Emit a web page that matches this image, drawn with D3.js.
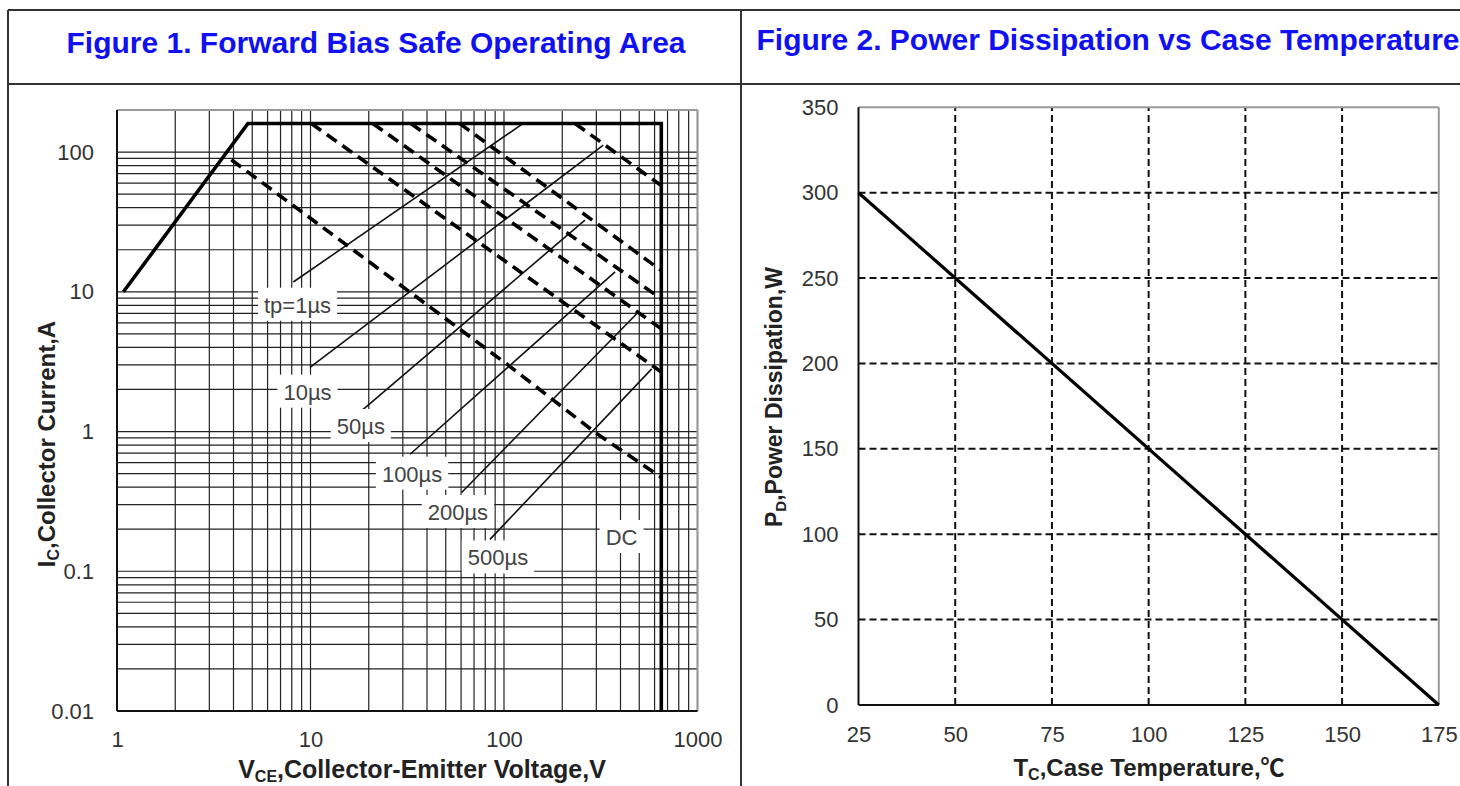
<!DOCTYPE html>
<html>
<head>
<meta charset="utf-8">
<title>Forward Bias SOA / Power Dissipation</title>
<script src="https://d3js.org/d3.v7.min.js"></script>
<style>
  body { margin: 0; background: #fff; }
  svg text { font-family: "Liberation Sans", Arial, sans-serif; }
</style>
</head>
<body>
<svg id="chart" width="1460" height="786"></svg>
<script>
// ---- Figure 1: forward bias SOA (log-log) ----
const vceDecades = [1, 10, 100, 1000];
const icDecades = [0.01, 0.1, 1, 10, 100];
// outer limit (tp = 1us): rising line, 160 A flat, 650 V wall
const limitV = [1.08, 4.75, 650, 650];
const limitI = [10, 160, 160, 0.01];
// pulse lines 10, 50, 100, 200, 500 us: start on the 160 A line, end on the 650 V wall
const pulseStartV = [233, 59, 33, 21, 10.1];
const pulseEndI = [57.5, 14.2, 8.9, 5.43, 2.67];
const dcV = [3.9, 15.8, 106, 297, 650];
const dcI = [88, 21, 2.96, 0.98, 0.47];
const labelText = ["tp=1µs", "10µs", "50µs", "100µs", "200µs", "500µs", "DC"];
const labelV = [8.57, 9.65, 18.2, 33.5, 57.8, 93.1, 405];
const labelI = [8.04, 1.92, 1.09, 0.497, 0.264, 0.125, 0.175];
// leader lines from labels to their curves
const leaderV0 = [8.15, 9.94, 18.4, 32.7, 60.4, 84.6];
const leaderI0 = [11.75, 2.88, 1.41, 0.688, 0.366, 0.169];
const leaderV1 = [123, 326, 262, 375, 485, 580];
const leaderI1 = [157, 112, 32.6, 13.9, 6.96, 2.81];

// ---- Figure 2: power dissipation vs case temperature ----
const caseTemp = [25, 175];
const powerDiss = [300, 0];
const tempTicks = [25, 50, 75, 100, 125, 150, 175];
const powerTicks = [0, 50, 100, 150, 200, 250, 300, 350];

const svg = d3.select("#chart");

// table frame
const frame = svg.append("g").attr("stroke", "#333").attr("stroke-width", 2);
frame.append("line").attr("x1", 8).attr("x2", 1460).attr("y1", 10).attr("y2", 10);
frame.append("line").attr("x1", 8).attr("x2", 1460).attr("y1", 84).attr("y2", 84);
frame.append("line").attr("x1", 8).attr("x2", 8).attr("y1", 10).attr("y2", 786);
frame.append("line").attr("x1", 741).attr("x2", 741).attr("y1", 10).attr("y2", 786);

svg.append("text").attr("x", 376).attr("y", 53).attr("text-anchor", "middle")
  .attr("font-size", 30).attr("font-weight", "bold").attr("fill", "#1010f0")
  .text("Figure 1. Forward Bias Safe Operating Area");
svg.append("text").attr("x", 1108).attr("y", 50).attr("text-anchor", "middle")
  .attr("font-size", 30).attr("font-weight", "bold").attr("fill", "#1010f0")
  .text("Figure 2. Power Dissipation vs Case Temperature");

// ================= Figure 1 =================
const x1 = d3.scaleLog().domain([1, 1000]).range([117, 697.5]);
const y1 = d3.scaleLog().domain([0.01, 200]).range([711, 110]);
const g1 = svg.append("g");

g1.append("g").selectAll("line").data(x1.ticks()).join("line")
  .attr("x1", d => x1(d)).attr("x2", d => x1(d))
  .attr("y1", y1(0.01)).attr("y2", y1(200))
  .attr("stroke", "#222").attr("stroke-width", 1.2);
g1.append("g").selectAll("line").data(y1.ticks()).join("line")
  .attr("x1", x1(1)).attr("x2", x1(1000))
  .attr("y1", d => y1(d)).attr("y2", d => y1(d))
  .attr("stroke", "#222").attr("stroke-width", 1.2);

// plot border
g1.append("line").attr("x1", x1(1)).attr("x2", x1(1000)).attr("y1", y1(200)).attr("y2", y1(200))
  .attr("stroke", "#999").attr("stroke-width", 2);
g1.append("line").attr("x1", x1(1000)).attr("x2", x1(1000)).attr("y1", y1(200)).attr("y2", y1(0.01))
  .attr("stroke", "#999").attr("stroke-width", 2);
g1.append("line").attr("x1", x1(1)).attr("x2", x1(1)).attr("y1", y1(200)).attr("y2", y1(0.01))
  .attr("stroke", "#111").attr("stroke-width", 2);
g1.append("line").attr("x1", x1(1)).attr("x2", x1(1000)).attr("y1", y1(0.01)).attr("y2", y1(0.01))
  .attr("stroke", "#111").attr("stroke-width", 2);

// leader lines
g1.append("g").selectAll("line").data(leaderV0).join("line")
  .attr("x1", (d, i) => x1(leaderV0[i])).attr("y1", (d, i) => y1(leaderI0[i]))
  .attr("x2", (d, i) => x1(leaderV1[i])).attr("y2", (d, i) => y1(leaderI1[i]))
  .attr("stroke", "#111").attr("stroke-width", 1.6);

// pulse lines (dashed)
g1.append("g").selectAll("line").data(pulseStartV).join("line")
  .attr("x1", d => x1(d)).attr("y1", y1(limitI[1]))
  .attr("x2", x1(limitV[2])).attr("y2", (d, i) => y1(pulseEndI[i]))
  .attr("stroke", "#000").attr("stroke-width", 3.6).attr("stroke-dasharray", "12,7");

const line1 = d3.line().x(d => x1(d[0])).y(d => y1(d[1]));
g1.append("path").datum(dcV.map((v, i) => [v, dcI[i]])).attr("d", line1)
  .attr("fill", "none").attr("stroke", "#000").attr("stroke-width", 3.6)
  .attr("stroke-dasharray", "12,7");

g1.append("path").datum(limitV.map((v, i) => [v, limitI[i]])).attr("d", line1)
  .attr("fill", "none").attr("stroke", "#000").attr("stroke-width", 3.6)
  .attr("stroke-linejoin", "miter");

// curve labels with white boxes
const labels = g1.append("g").selectAll("g").data(labelText).join("g");
labels.append("text")
  .attr("x", (d, i) => x1(labelV[i])).attr("y", (d, i) => y1(labelI[i]))
  .attr("dy", "0.35em").attr("text-anchor", "middle")
  .attr("font-size", 22).attr("fill", "#444").text(d => d);
labels.each(function() {
  const t = d3.select(this).select("text");
  const b = t.node().getBBox();
  d3.select(this).insert("rect", "text")
    .attr("x", b.x - 6).attr("y", b.y - 5).attr("width", b.width + 12).attr("height", b.height + 8)
    .attr("fill", "#fff");
});

// axes
const ax1 = g1.append("g").attr("transform", `translate(0,${y1(0.01)})`)
  .call(d3.axisBottom(x1).tickValues(vceDecades).tickFormat(d3.format("~g")).tickSize(0).tickPadding(20));
const ay1 = g1.append("g").attr("transform", `translate(${x1(1)},0)`)
  .call(d3.axisLeft(y1).tickValues(icDecades).tickFormat(d => String(d)).tickSize(0).tickPadding(23));
[ax1, ay1].forEach(a => {
  a.select(".domain").remove();
  a.selectAll("text").attr("font-size", 22).attr("fill", "#333")
    .attr("font-family", "Liberation Sans, Arial, sans-serif");
});

const xt1 = svg.append("text").attr("x", 422).attr("y", 778).attr("text-anchor", "middle")
  .attr("font-size", 25).attr("font-weight", "bold").attr("fill", "#222");
xt1.append("tspan").text("V");
xt1.append("tspan").attr("font-size", 16).attr("dy", 4).text("CE");
xt1.append("tspan").attr("dy", -4).text(",Collector-Emitter Voltage,V");

const yt1 = svg.append("text").attr("transform", "translate(55,444) rotate(-90)")
  .attr("text-anchor", "middle").attr("font-size", 24).attr("font-weight", "bold").attr("fill", "#222");
yt1.append("tspan").text("I");
yt1.append("tspan").attr("font-size", 16).attr("dy", 4).text("C");
yt1.append("tspan").attr("dy", -4).text(",Collector Current,A");

// ================= Figure 2 =================
const x2 = d3.scaleLinear().domain([25, 175]).range([858.5, 1438.8]);
const y2 = d3.scaleLinear().domain([0, 350]).range([705, 107.3]);
const g2 = svg.append("g");

g2.append("g").selectAll("line").data(tempTicks.slice(1, -1)).join("line")
  .attr("x1", d => x2(d)).attr("x2", d => x2(d)).attr("y1", y2(0)).attr("y2", y2(350))
  .attr("stroke", "#111").attr("stroke-width", 2).attr("stroke-dasharray", "7,4");
g2.append("g").selectAll("line").data(powerTicks.slice(1, -1)).join("line")
  .attr("x1", x2(25)).attr("x2", x2(175)).attr("y1", d => y2(d)).attr("y2", d => y2(d))
  .attr("stroke", "#111").attr("stroke-width", 2).attr("stroke-dasharray", "7,4");

g2.append("line").attr("x1", x2(25)).attr("x2", x2(175)).attr("y1", y2(350)).attr("y2", y2(350))
  .attr("stroke", "#999").attr("stroke-width", 2);
g2.append("line").attr("x1", x2(175)).attr("x2", x2(175)).attr("y1", y2(350)).attr("y2", y2(0))
  .attr("stroke", "#999").attr("stroke-width", 2);
g2.append("line").attr("x1", x2(25)).attr("x2", x2(25)).attr("y1", y2(350)).attr("y2", y2(0))
  .attr("stroke", "#111").attr("stroke-width", 2);
g2.append("line").attr("x1", x2(25)).attr("x2", x2(175)).attr("y1", y2(0)).attr("y2", y2(0))
  .attr("stroke", "#111").attr("stroke-width", 2);

const line2 = d3.line().x(d => x2(d[0])).y(d => y2(d[1]));
g2.append("path").datum(caseTemp.map((t, i) => [t, powerDiss[i]])).attr("d", line2)
  .attr("fill", "none").attr("stroke", "#000").attr("stroke-width", 3.2);

const ax2 = g2.append("g").attr("transform", `translate(0,${y2(0)})`)
  .call(d3.axisBottom(x2).tickValues(tempTicks).tickSize(0).tickPadding(21));
const ay2 = g2.append("g").attr("transform", `translate(${x2(25)},0)`)
  .call(d3.axisLeft(y2).tickValues(powerTicks).tickSize(0).tickPadding(20));
[ax2, ay2].forEach(a => {
  a.select(".domain").remove();
  a.selectAll("text").attr("font-size", 22).attr("fill", "#333")
    .attr("font-family", "Liberation Sans, Arial, sans-serif");
});

const xt2 = svg.append("text").attr("x", 1149).attr("y", 776).attr("text-anchor", "middle")
  .attr("font-size", 24).attr("font-weight", "bold").attr("fill", "#222");
xt2.append("tspan").text("T");
xt2.append("tspan").attr("font-size", 16).attr("dy", 4).text("C");
xt2.append("tspan").attr("dy", -4).text(",Case Temperature,");
xt2.append("tspan").attr("font-family", "Noto Sans CJK SC").attr("font-weight", "bold").text("℃");

const yt2 = svg.append("text").attr("transform", "translate(782,397) rotate(-90)")
  .attr("text-anchor", "middle").attr("font-size", 23).attr("font-weight", "bold").attr("fill", "#222");
yt2.append("tspan").text("P");
yt2.append("tspan").attr("font-size", 15).attr("dy", 4).text("D");
yt2.append("tspan").attr("dy", -4).text(",Power Dissipation,W");
</script>
</body>
</html>
